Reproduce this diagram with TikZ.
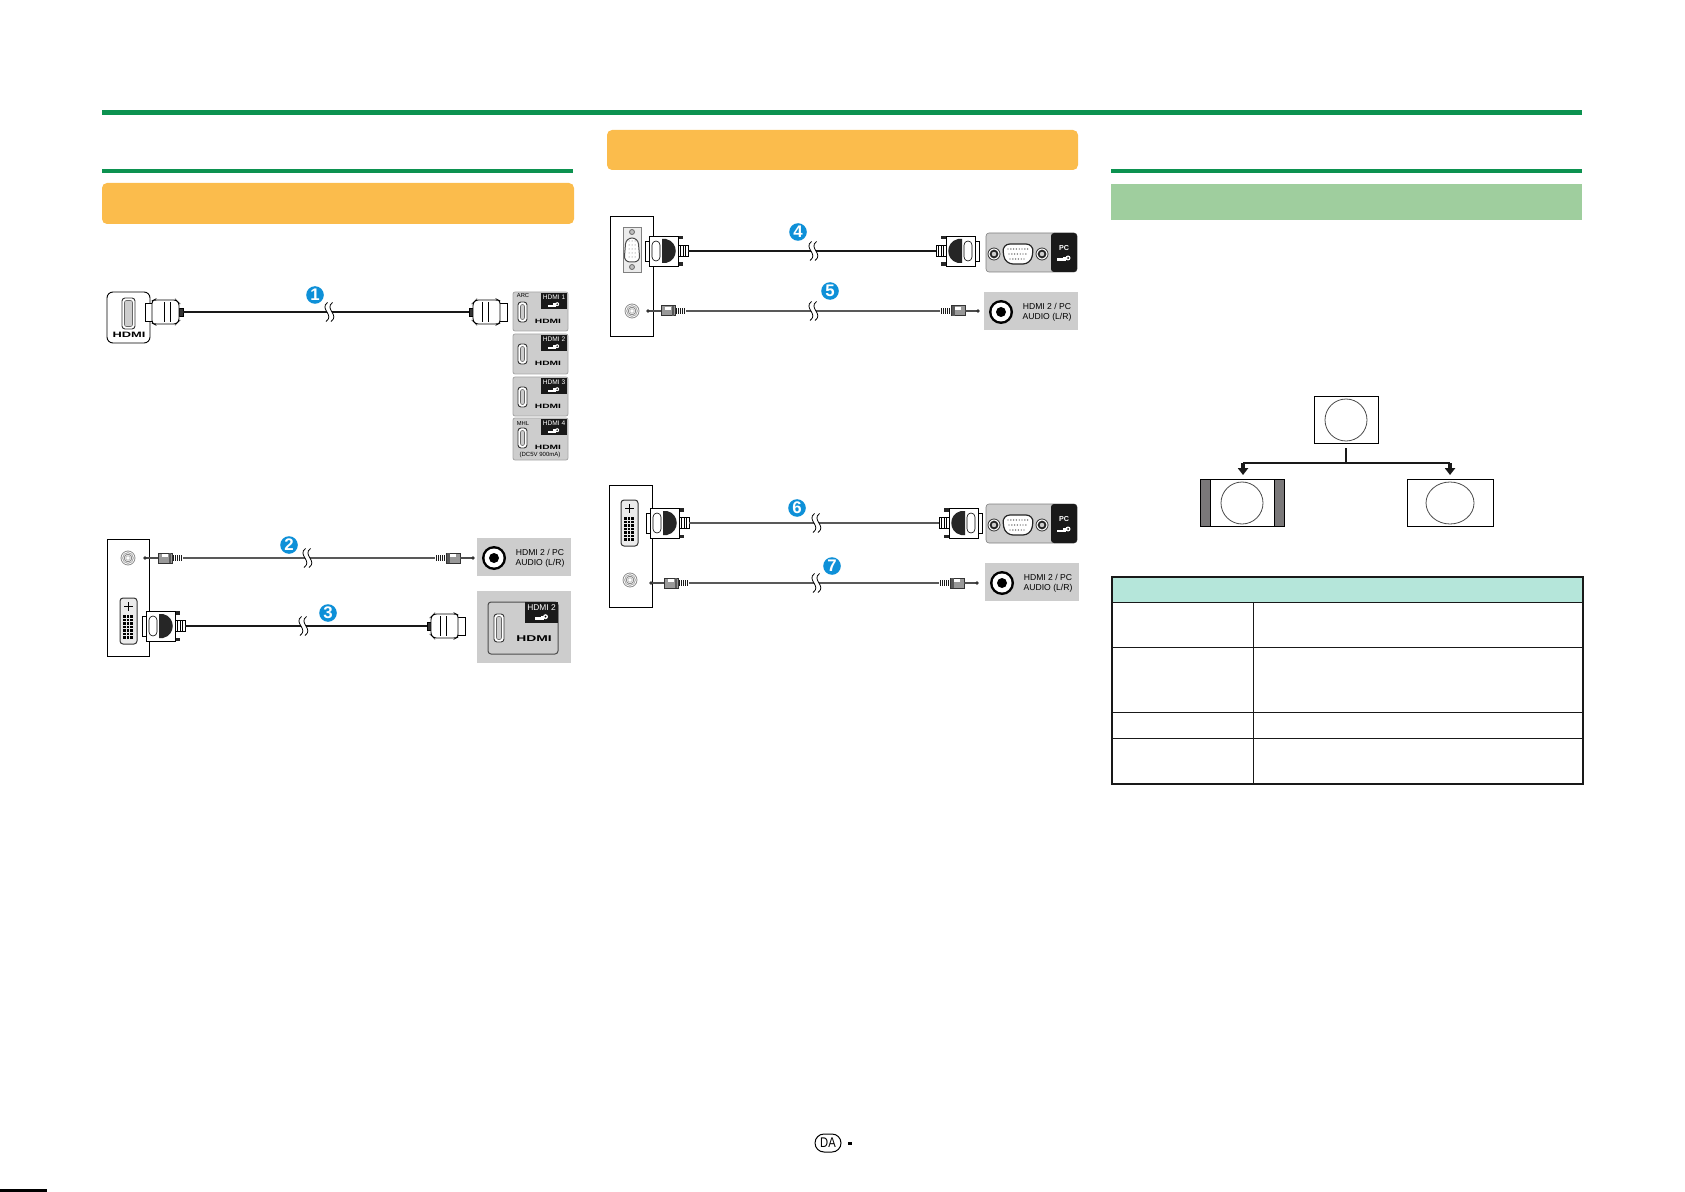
\documentclass[tikz,border=0pt]{standalone}
\usepackage{fontspec}
\setmainfont{Liberation Sans}
\usetikzlibrary{arrows.meta,positioning,calc}
\definecolor{barGreen}{HTML}{0C9250}
\definecolor{headOrange}{HTML}{FBBC4C}
\definecolor{headGreen}{HTML}{9FCE9E}
\definecolor{tableMint}{HTML}{B5E6DA}
\definecolor{panelGray}{HTML}{CDCDCD}
\definecolor{numBlue}{HTML}{0E90D8}
\definecolor{sideGray}{HTML}{7A7879}
\tikzset{
  frameline/.style={draw=black, line width=0.45pt},
  plugline/.style={draw=black, line width=0.45pt, fill=white},
  hdmicable/.style={draw=black!90, line width=1pt},
  audiocable/.style={draw=black!65, line width=0.9pt},
  numdot/.style={circle, fill=numBlue, text=white, inner sep=0pt, minimum size=8.8pt, font=\fontsize{8.4}{8.4}\selectfont\bfseries},
  logotext/.style={inner sep=0pt, font=\fontsize{#1}{#1}\selectfont\bfseries, xscale=1.65, transform shape},
  paneltext/.style={inner sep=0pt, align=center, font=\fontsize{4.3}{5}\selectfont},
  labeltext/.style={inner sep=0pt, text=white, font=\fontsize{#1}{#1}\selectfont},
  treeline/.style={draw=black!90, line width=1pt},
  fatarrow/.style={draw=black!90, line width=2pt, -{Triangle[length=3.4pt,width=5pt]}},
  tablerule/.style={draw=black!90, line width=0.5pt}
}
% x, y, direction
\newcommand{\hdmiplug}[4]{
  \begin{scope}[shift={(#2,#3)},xscale=#4]
    \coordinate (#1) at (0,0);
    \filldraw[plugline, fill=black!80] (0,-4) rectangle (4,4);
    \draw[plugline] (29,-9) rectangle (38,9);
    \draw[plugline, rounded corners=1.2] (4,-9) -- (7,-12) -- (29,-12) -- (31,-11) -- (31,11) -- (29,12) -- (7,12) -- (4,9) -- cycle;
    \draw[plugline] (13,-10) -- (13,10) (19,-10) -- (19,10);
  \end{scope}
}
\newcommand{\subplug}[4]{
  \begin{scope}[shift={(#2,#3)},xscale=#4]
    \coordinate (#1) at (0,0);
    \draw[plugline] (0,-5.5) rectangle (10,5.5);
    \foreach \k in {2.5,5,7.5} \draw[black, line width=0.45pt] (\k,-5.5) -- (\k,5.5);
    \fill[black!85] (5,-15) rectangle (20,-11.5);
    \fill[black!85] (5,11.5) rectangle (20,15);
    \draw[plugline] (39,-10) rectangle (43,10);
    \draw[plugline] (10,-15) rectangle (39,15);
    \fill[black!85] (26,-12) -- (22,-12) .. controls (9,-9) and (9,9) .. (22,12) -- (26,12) -- cycle;
    \draw[black, line width=0.3pt, fill=white, rounded corners=2] (28,-10) rectangle (36,10);
  \end{scope}
}
\newcommand{\miniplug}[4]{
  \begin{scope}[shift={(#2,#3)},xscale=#4]
    \coordinate (#1) at (0,0);
    \foreach \k in {1,3,5,7,9} \fill[black!90] (\k,-2.8) rectangle ++(1.2,5.6);
    \draw[black!80, line width=0.5pt, fill=black!40] (11,-5) rectangle (25,5);
    \fill[white] (15,-4) rectangle (21,-1);
    \fill[black!65] (12,-4.7) rectangle (14.5,4.7);
    \draw[black!70, line width=0.9pt] (25,0) -- (38,0);
    \fill[black!80] (38,0) circle (1.8);
  \end{scope}
}
\newcommand{\cablebreak}[2]{
  \begin{scope}[shift={(#1,#2)}]
    \fill[white] (-1.5,-9.5) .. controls (-10,-3) and (6,3) .. (-3,9.5) -- (2,9.5) .. controls (11,3) and (-5,-3) .. (3.5,-9.5) -- cycle;
    \draw[black, line width=0.4pt] (-1.5,-9.5) .. controls (-10,-3) and (6,3) .. (-3,9.5);
    \draw[black, line width=0.4pt] (3.5,-9.5) .. controls (-5,-3) and (11,3) .. (2,9.5);
  \end{scope}
}
\newcommand{\plugicon}[2]{
  \begin{scope}[shift={(#1)},scale=#2]
    \fill[white] (-7,0.5) rectangle (2,3);
    \fill[white] (-1,-1) rectangle (2,3);
    \fill[white] (4,0) circle (2.5);
    \fill[black] (4,0) circle (1);
  \end{scope}
}
% small input label: name, left, top, width, height, text, font size, icon scale
\newcommand{\inputlabel}[8]{
  \fill[black!90] (#2,#3) rectangle ++(#4,#5);
  \node[labeltext=#7] (#1) at ($(#2,#3)+(#4/2,#5*0.27)$) {#6};
  \coordinate (#1icon) at ($(#2,#3)+(#4/2,#5*0.7)$);
  \plugicon{#1icon}{#8}
}
\newcommand{\portslot}[4]{
  \draw[black!80, line width=0.45pt, fill=white, rounded corners=1.5] (#1,#2) rectangle ++(#3,#4);
  \draw[black!60, line width=0.3pt, fill=panelGray, rounded corners=1] ($(#1,#2)+(2.5,2.5)$) rectangle ($(#1,#2)+(#3-2.5,#4-2.5)$);
}
\newcommand{\audiopanel}[3]{
  \begin{scope}[shift={(#2,#3)}]
    \fill[panelGray] (0,0) rectangle (94,38);
    \fill[black] (17,20) circle (12);
    \fill[white] (17,20) circle (9.5);
    \fill[black] (17,20) circle (5);
    \node[paneltext] (#1) at (63,20) {HDMI 2 / PC\\AUDIO (L/R)};
  \end{scope}
}
\newcommand{\vgapanel}[3]{
  \begin{scope}[shift={(#2,#3)}]
    \draw[black!50, line width=0.3pt, fill=panelGray, rounded corners=1.5] (0,0) rectangle (91,39);
    \fill[black!90, rounded corners=1.5] (65,0) rectangle (91,39);
    \node[labeltext=3.6, font=\fontsize{3.6}{3.6}\selectfont\bfseries] (#1) at (78,15) {PC};
    \plugicon{78,25}{1}
    \draw[black!85, line width=0.6pt, fill=white, rounded corners=4] (16,11) -- (48,11) -- (45,31) -- (19,31) -- cycle;
    \foreach \r/\a/\n in {16/22/8, 21/23/7, 26/24/6} \foreach \k in {1,...,\n} \fill[black!70] (\a+\k*2.8-2.8,\r) circle (0.7);
    \foreach \sx in {8,56} {
      \draw[black!80, line width=0.4pt, fill=white] (\sx,21) circle (6);
      \draw[black!85, line width=0.9pt, fill=panelGray] (\sx,21) circle (3.4);
    }
  \end{scope}
}
\newcommand{\dviport}[2]{
  \begin{scope}[shift={(#1,#2)}]
    \draw[black!80, line width=0.5pt, fill=black!8, rounded corners=1.5] (0,0) rectangle (17,46);
    \draw[black, line width=0.6pt] (8.5,4) -- (8.5,13) (4,8.5) -- (13,8.5);
    \foreach \c in {3,6.5,10} \foreach \r in {17,20.5,...,41} \fill[black] (\c,\r) rectangle ++(2.6,2.5);
  \end{scope}
}
\newcommand{\audiojack}[2]{
  \foreach \r/\g in {7/45, 5.4/35, 3.8/50, 2.2/25}
    \draw[black!\g, line width=0.4pt, fill=white] (#1,#2) circle (\r);
}
\begin{document}
\begin{tikzpicture}[x=0.5pt, y=-0.5pt]
  \useasboundingbox (0,0) rectangle (1685,1192);
  % rules and section heads
  \fill[barGreen] (102,110) rectangle (1582,115.5);
  \foreach \x in {102,1111} \fill[barGreen] (\x,169) rectangle (\x+471,173);
  \fill[headOrange, rounded corners=2.5pt] (102,183) rectangle (574,224);
  \fill[headOrange, rounded corners=2.5pt] (607,130) rectangle (1078,170);
  \fill[headGreen] (1111,184) rectangle (1582,220);

  % first hookup
  \draw[frameline, rounded corners=3] (107,292) rectangle (150,343);
  \portslot{122}{298}{13}{31}
  \node[logotext=3.9] (tvlogo) at (129,335) {HDMI};
  \foreach \i/\t/\h/\n in {1/292/39/HDMI 1, 2/334/40/HDMI 2, 3/377/39/HDMI 3, 4/418/42/HDMI 4}{
    \draw[black!35, line width=0.4pt, fill=panelGray, rounded corners=1] (513,\t) rectangle (568,\t+\h);
    \inputlabel{inlabel\i}{541}{\t+1}{26}{16}{\n}{3.3}{0.8}
    \portslot{518}{\t+10}{9}{20}
    \node[logotext=3.1] (inlogo\i) at (548,\t+29) {HDMI};
  }
  \node[paneltext, font=\fontsize{2.9}{3}\selectfont] (arctext) at (523,296) {ARC};
  \node[paneltext, font=\fontsize{2.9}{3}\selectfont] (mhltext) at (523,424) {MHL};
  \node[paneltext, font=\fontsize{3}{3}\selectfont] (dctext) at (540,455) {(DC5V 900mA)};
  \hdmiplug{plugA}{183}{312}{-1}
  \hdmiplug{plugB}{469}{312}{1}
  \draw[hdmicable] (plugA) -- (plugB);
  \cablebreak{329}{312}

  % second hookup
  \draw[frameline] (107,539) rectangle (149,656);
  \audiojack{128}{558}
  \dviport{120}{598}
  \miniplug{plugC}{183}{558}{-1}
  \miniplug{plugD}{435}{558}{1}
  \draw[audiocable] (plugC) -- (plugD);
  \cablebreak{307}{558}
  \audiopanel{audioA}{477}{538}
  \subplug{plugE}{185}{626}{-1}
  \hdmiplug{plugF}{427}{626}{1}
  \draw[hdmicable] (plugE) -- (plugF);
  \cablebreak{303}{626}
  \fill[panelGray] (477,591) rectangle (571,663);
  \draw[black!70, line width=0.5pt, fill=panelGray, rounded corners=1.5] (488,602) rectangle (558,654);
  \inputlabel{inlabelB}{525}{602}{33}{21}{HDMI 2}{4.2}{1}
  \portslot{494}{614}{10}{28}
  \node[logotext=4.2] (inlogoB) at (534,639) {HDMI};

  % PC with D-sub
  \draw[frameline] (610,216) rectangle (653,336);
  \draw[black!50, line width=0.4pt, fill=black!8] (623,227) rectangle (641,272);
  \draw[black!70, line width=0.5pt, fill=white, rounded corners=3] (626,238) -- (638,238) -- (640,262) -- (624,262) -- cycle;
  \foreach \r in {241,245,...,259} \foreach \c in {629,632,635} \fill[black!60] (\c,\r) circle (0.5);
  \foreach \r in {232,267} \draw[black!60, line width=0.4pt, fill=black!25] (632,\r) circle (2.5);
  \audiojack{632}{311}
  \subplug{plugG}{688}{251}{-1}
  \subplug{plugH}{936}{251}{1}
  \draw[hdmicable] (plugG) -- (plugH);
  \cablebreak{813}{251}
  \vgapanel{vgaA}{986}{233}
  \miniplug{plugI}{686}{311}{-1}
  \miniplug{plugJ}{940}{311}{1}
  \draw[audiocable] (plugI) -- (plugJ);
  \cablebreak{813}{311}
  \audiopanel{audioB}{984}{292}

  % PC with DVI
  \draw[frameline] (609,485) rectangle (652,607);
  \dviport{621}{500}
  \audiojack{630}{580}
  \subplug{plugK}{689}{523}{-1}
  \subplug{plugL}{939}{523}{1}
  \draw[audiocable] (plugK) -- (plugL);
  \cablebreak{816}{523}
  \vgapanel{vgaB}{986}{504}
  \miniplug{plugM}{689}{583}{-1}
  \miniplug{plugN}{939}{583}{1}
  \draw[audiocable] (plugM) -- (plugN);
  \cablebreak{816}{583}
  \audiopanel{audioC}{985}{563}

  \foreach \i/\x/\y in {1/315/295, 2/289/545, 3/328/613, 4/798/232, 5/830/291, 6/797/508, 7/832/566}
    \node[numdot] (num\i) at (\x,\y) {\i};

  % picture sizes
  \draw[black, line width=0.5pt] (1314,396) rectangle (1378,443);
  \draw[black!70, line width=0.4pt] (1346,420) circle (21);
  \fill[sideGray] (1200,479) rectangle (1284,526);
  \draw[black, line width=0.5pt, fill=white] (1210,479) rectangle (1274,526);
  \draw[black, line width=0.5pt] (1200,479) rectangle (1284,526);
  \draw[black!70, line width=0.4pt] (1242,503) circle (21);
  \draw[black, line width=0.5pt] (1407,479) rectangle (1493,526);
  \draw[black!70, line width=0.4pt] (1450,503) ellipse [x radius=24, y radius=21];
  \coordinate (stemtop) at (1346,448);
  \coordinate (junction) at (1346,463);
  \coordinate (branchL) at (1243,463);
  \coordinate (branchR) at (1450,463);
  \coordinate (tipL) at (1243,475);
  \coordinate (tipR) at (1450,475);
  \draw[treeline] (stemtop) -- (junction);
  \draw[treeline] (branchL) -- (branchR);
  \draw[fatarrow] (branchL) -- (tipL);
  \draw[fatarrow] (branchR) -- (tipR);

  % table
  \fill[tableMint] (1112,577) rectangle (1583,602);
  \foreach \y in {602,647,712,738} \draw[tablerule] (1112,\y) -- (1583,\y);
  \draw[tablerule] (1253,602) -- (1253,784);
  \draw[black!90, line width=1pt] (1112,577) rectangle (1583,784);

  % foot of the page
  \draw[black, line width=0.5pt, rounded corners=4.5pt] (815,1134) rectangle (841,1152);
  \node[inner sep=0pt, font=\fontsize{7}{7}\selectfont, xscale=0.8, transform shape] (langtag) at (828,1143) {DA};
  \fill[black] (848,1142) rectangle (852,1144.5);
  \fill[black] (0,1189) rectangle (47,1192);
\end{tikzpicture}
\end{document}
